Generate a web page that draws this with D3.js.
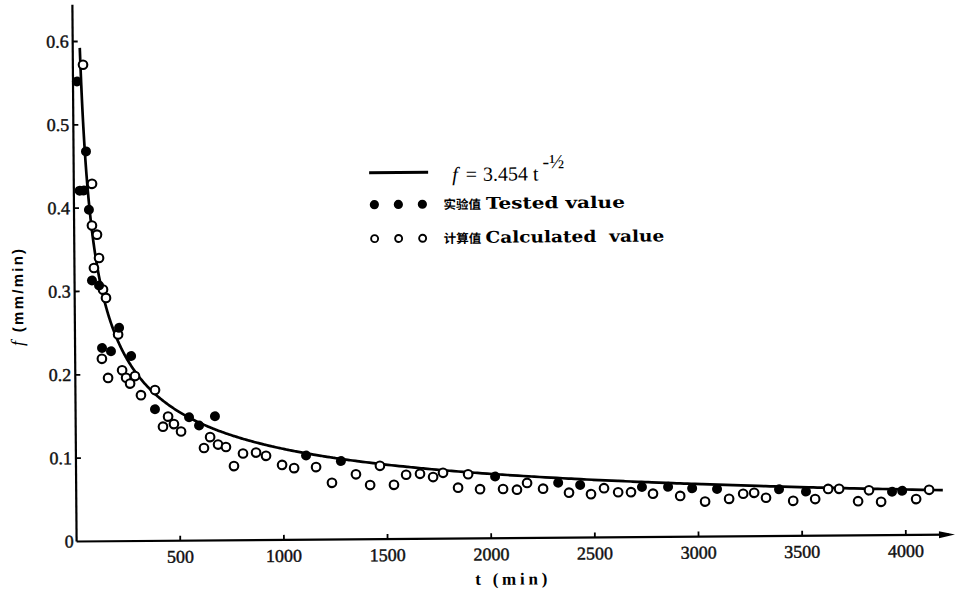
<!DOCTYPE html>
<html><head><meta charset="utf-8">
<script src="https://cdn.jsdelivr.net/npm/d3@7/dist/d3.min.js"></script>
<style>
html,body{margin:0;padding:0;background:#fff;}
svg{display:block;}
.tick-label{font-family:"Liberation Serif","DejaVu Serif",serif;font-size:18px;fill:#111;stroke:#111;stroke-width:0.45px;}
</style>
</head><body>
<svg id="chart" width="963" height="600"></svg>
<script>
// ---- data ----
const coefA = 3.454;           // f = 3.454 * t^(-1/2)
const tTested = [19, 28, 48, 60, 72, 84, 118, 130, 173, 213, 270, 383, 547, 595, 672, 1110, 1278, 2021, 2325, 2431, 2729, 2855, 2971, 3091, 3390, 3520, 3935, 3984];
const fTested = [0.552, 0.421, 0.421, 0.468, 0.398, 0.313, 0.307, 0.232, 0.228, 0.256, 0.222, 0.158, 0.148, 0.138, 0.149, 0.101, 0.094, 0.074, 0.066, 0.063, 0.060, 0.060, 0.058, 0.057, 0.056, 0.053, 0.052, 0.053];
const tCalc = [49, 88, 86, 110, 119, 94, 137, 151, 208, 129, 158, 226, 245, 264, 288, 316, 384, 421, 446, 474, 508, 618, 648, 686, 724, 762, 806, 869, 917, 994, 1052, 1158, 1234, 1350, 1418, 1466, 1533, 1592, 1659, 1722, 1770, 1842, 1891, 1948, 2059, 2126, 2175, 2252, 2377, 2483, 2546, 2614, 2676, 2782, 2913, 3033, 3149, 3217, 3270, 3327, 3458, 3564, 3627, 3680, 3771, 3824, 3882, 4051, 4114];
const fCalc = [0.572, 0.429, 0.379, 0.368, 0.340, 0.328, 0.302, 0.292, 0.248, 0.219, 0.196, 0.205, 0.196, 0.189, 0.198, 0.175, 0.181, 0.137, 0.149, 0.140, 0.131, 0.111, 0.124, 0.115, 0.112, 0.089, 0.104, 0.105, 0.101, 0.090, 0.086, 0.087, 0.068, 0.078, 0.065, 0.088, 0.065, 0.077, 0.078, 0.074, 0.079, 0.061, 0.077, 0.059, 0.059, 0.058, 0.066, 0.059, 0.054, 0.052, 0.059, 0.054, 0.054, 0.052, 0.049, 0.042, 0.045, 0.051, 0.052, 0.046, 0.042, 0.044, 0.056, 0.056, 0.041, 0.054, 0.040, 0.043, 0.054];
const xTicks = [500, 1000, 1500, 2000, 2500, 3000, 3500, 4000];
const yTicks = [0, 0.1, 0.2, 0.3, 0.4, 0.5, 0.6];
const yTickLabels = ["0", "0.1", "0.2", "0.3", "0.4", "0.5", "0.6"];
const curveRange = [34, 4180];
const xTitle = "t (min)";
const yTitleParts = ["f", " (mm/min)"];
const legendTested = ["实验值", "Tested value"];
const legendCalc = ["计算值", "Calculated  value"];

// ---- layout ----
const svg = d3.select("#chart");
const ox = 76.6, oy = 541.5;
const x = d3.scaleLinear().domain([0, 4237]).range([ox, 955]);
const y = d3.scaleLinear().domain([0, 0.6]).range([oy, 41.5]);

const g = svg.append("g").attr("transform", `rotate(-0.45, ${ox}, ${oy})`);

// axes lines
g.append("line").attr("x1", x(0)).attr("x2", x(0)).attr("y1", y(0)).attr("y2", y(0.644))
  .attr("stroke", "#000").attr("stroke-width", 2.2);
g.append("line").attr("x1", x(0)).attr("x2", x(4237) - 6).attr("y1", y(0)).attr("y2", y(0))
  .attr("stroke", "#000").attr("stroke-width", 2.2);
const ax = x(4237);
g.append("path").attr("d", `M${ax},${oy} L${ax-16},${oy-3.5} L${ax-16},${oy+3.5} Z`).attr("fill", "#000");

// x ticks
const xt = g.append("g");
xt.selectAll("line").data(xTicks).join("line")
  .attr("x1", d => x(d)).attr("x2", d => x(d)).attr("y1", oy).attr("y2", oy - 5)
  .attr("stroke", "#000").attr("stroke-width", 1.8);
xt.selectAll("text").data(xTicks).join("text")
  .attr("class", "tick-label")
  .attr("x", d => x(d)).attr("y", oy + 22).attr("text-anchor", "middle")
  .text(d => d);

// y ticks
const yt = g.append("g");
yt.selectAll("line").data(yTicks.slice(1)).join("line")
  .attr("x1", x(0)).attr("x2", x(0) + 5).attr("y1", d => y(d)).attr("y2", d => y(d))
  .attr("stroke", "#000").attr("stroke-width", 1.8);
yt.selectAll("text").data(yTicks).join("text")
  .attr("class", "tick-label")
  .attr("x", (d, i) => i === 0 ? x(0) - 3 : x(0) - 4).attr("y", d => y(d) + 6).attr("text-anchor", "end")
  .text((d, i) => yTickLabels[i]);

// fitted curve
const curvePts = d3.range(0, 401).map(i => {
  const t = curveRange[0] * Math.pow(curveRange[1] / curveRange[0], i / 400);
  return [t, coefA / Math.sqrt(t)];
});
g.append("path").datum(curvePts)
  .attr("d", d3.line().x(d => x(d[0])).y(d => y(d[1])).curve(d3.curveMonotoneX))
  .attr("fill", "none").attr("stroke", "#000").attr("stroke-width", 2.7);

// calculated (open) points
g.append("g").selectAll("circle").data(tCalc).join("circle")
  .attr("cx", d => x(d)).attr("cy", (d, i) => y(fCalc[i])).attr("r", 4.3)
  .attr("fill", "#fff").attr("stroke", "#000").attr("stroke-width", 2.1);
// tested (filled) points
g.append("g").selectAll("circle").data(tTested).join("circle")
  .attr("cx", d => x(d)).attr("cy", (d, i) => y(fTested[i])).attr("r", 5)
  .attr("fill", "#000");

// axis titles
g.append("text").attr("x", 511).attr("y", 588).attr("text-anchor", "middle")
  .attr("font-family", "Liberation Serif, serif").attr("font-weight", "bold").attr("font-size", 17)
  .attr("textLength", 72).attr("lengthAdjust", "spacing").text(xTitle);
const yl = g.append("text").attr("transform", "translate(25,297) rotate(-90)").attr("text-anchor", "middle")
  .attr("font-family", "Liberation Sans, Arial, sans-serif").attr("font-weight", "bold").attr("font-size", 15)
  .attr("textLength", 97).attr("lengthAdjust", "spacing");
yl.append("tspan").attr("font-family", "Liberation Serif, serif").attr("font-style", "italic").attr("font-weight", "normal").attr("font-size", 18).text(yTitleParts[0]);
yl.append("tspan").text(yTitleParts[1]);

// legend
const lg = g.append("g");
lg.append("line").attr("x1", 372).attr("x2", 431).attr("y1", 175).attr("y2", 175)
  .attr("stroke", "#000").attr("stroke-width", 3);
const ft = lg.append("text").attr("x", 455).attr("y", 184)
  .attr("font-family", "Liberation Serif, serif").attr("font-size", 20);
ft.append("tspan").attr("font-style", "italic").text("f");
ft.append("tspan").attr("dx", 8).text("=");
ft.append("tspan").attr("dx", 6).text("3.454");
ft.append("tspan").attr("dx", 5).text("t");
ft.append("tspan").attr("dx", 4).attr("dy", -12).attr("font-size", 20).text("-½");

lg.selectAll("circle.f").data([0, 1, 2]).join("circle").attr("class", "f")
  .attr("cx", d => 377 + d * 24).attr("cy", 207).attr("r", 4.6).attr("fill", "#000");
lg.selectAll("circle.o").data([0, 1, 2]).join("circle").attr("class", "o")
  .attr("cx", d => 377 + d * 24).attr("cy", 241).attr("r", 3.5)
  .attr("fill", "#fff").attr("stroke", "#000").attr("stroke-width", 1.9);

function legText(yy, pair, len) {
  const t = lg.append("text").attr("x", 446).attr("y", yy).style("white-space", "pre");
  t.append("tspan").attr("font-family", "Noto Sans CJK SC, sans-serif").attr("font-size", 12.5).attr("font-weight", "bold")
    .text(pair[0]);
  t.append("tspan").attr("dx", -2)
    .attr("font-family", "DejaVu Serif, serif").attr("font-weight", "bold").attr("font-size", 16)
    .attr("textLength", len).attr("lengthAdjust", "spacingAndGlyphs")
    .text(" " + pair[1]);
}
legText(212, legendTested, 146);
legText(246, legendCalc, 185);
</script>
</body></html>
